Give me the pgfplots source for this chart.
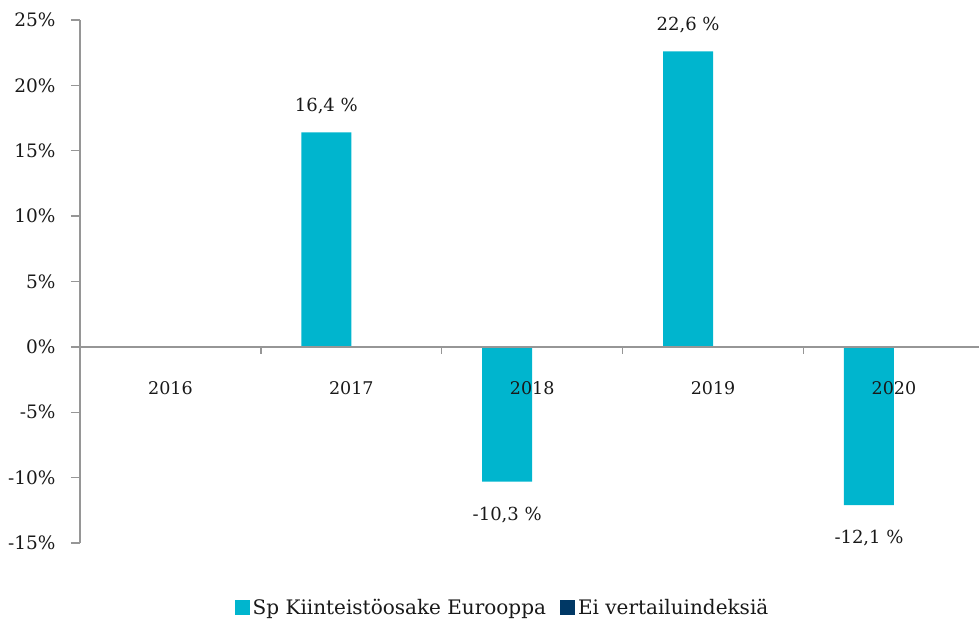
\documentclass[border=0pt]{standalone}
\usepackage{fontspec}
\setmainfont{DejaVu Serif}
\usepackage{pgfplots}
\pgfplotsset{compat=1.18}
\definecolor{CYAN}{RGB}{0,181,206}
\definecolor{NAVY}{RGB}{0,56,101}
\definecolor{AXGRAY}{RGB}{150,150,150}
\definecolor{TXT}{RGB}{25,25,25}
\pgfplotsset{
    sq legend/.style={legend image code/.code={\fill[##1] (0pt,-7.5pt) rectangle (15pt,7.5pt);}},
}

\begin{document}
\begin{tikzpicture}
\begin{axis}[
    scale only axis,
    width=899pt, height=523pt,
    xmin=-0.5, xmax=4.47,
    ymin=-15, ymax=25,
    axis on top,
    axis y line*=left,
    axis x line*=middle,
    axis line style={AXGRAY, line width=1.4pt},
    xtick={0,1,2,3,4},
    xticklabels={2016,2017,2018,2019,2020},
    minor xtick={0.5,1.5,2.5,3.5},
    major x tick style={draw=none},
    minor x tick style={AXGRAY, line width=1.4pt},
    minor tick length=7pt,
    xtick align=outside,
    ytick={-15,-10,...,25},
    yticklabels={-15\%,-10\%,-5\%,0\%,5\%,10\%,15\%,20\%,25\%},
    ytick align=outside,
    major tick length=9pt,
    y tick style={AXGRAY, line width=1.4pt},
    tick label style={text=TXT},
    xticklabel style={yshift=-22pt, font=\fontsize{17.5}{20}\selectfont},
    yticklabel style={xshift=-12pt, font=\fontsize{18.5}{22}\selectfont},
    clip=false,
    legend columns=-1,
    legend style={draw=none, fill=none, at={(0.47,0)}, yshift=-65pt, anchor=center,
        font=\fontsize{20}{24}\selectfont, text=TXT,
        /tikz/every odd column/.append style={column sep=1pt},
        /tikz/every even column/.append style={column sep=12pt}},
]
\addplot[ybar, fill=CYAN, draw=none, bar width=50pt, bar shift=-25pt,
    nodes near coords, point meta=explicit symbolic,
    every node near coord/.append style={anchor=south, inner sep=0pt, yshift=18pt, xshift=-25pt,
        font=\fontsize{18}{21}\selectfont, text=TXT},
    sq legend]
    coordinates {(1,16.4) [16,4~\%] (3,22.6) [22,6~\%]};
\addlegendentry{Sp Kiinteistöosake Eurooppa}
\addplot[ybar, fill=CYAN, draw=none, bar width=50pt, bar shift=-25pt, forget plot,
    nodes near coords, point meta=explicit symbolic,
    every node near coord/.append style={anchor=north, inner sep=0pt, yshift=-25pt, xshift=-25pt,
        font=\fontsize{18}{21}\selectfont, text=TXT}]
    coordinates {(2,-10.3) [-10,3~\%] (4,-12.1) [-12,1~\%]};
\addlegendimage{sq legend, fill=NAVY, draw=none}
\addlegendentry{Ei vertailuindeksiä}
\end{axis}
\pgfresetboundingbox
\path ([xshift=-80pt,yshift=-79pt]current axis.south west) rectangle ([yshift=20pt]current axis.north east);
\end{tikzpicture}
\end{document}
